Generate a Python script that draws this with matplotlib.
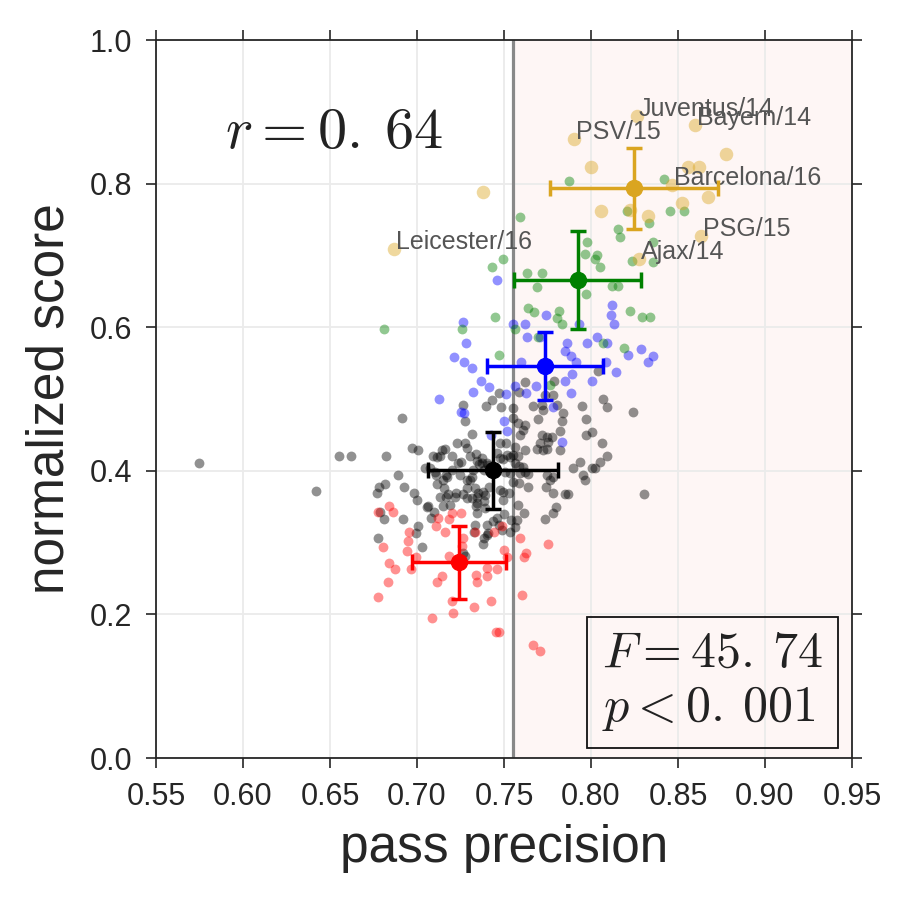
import matplotlib
matplotlib.use("Agg")
import matplotlib.pyplot as plt

plt.rcParams['font.family'] = ['Liberation Sans', 'DejaVu Sans']
plt.rcParams['mathtext.fontset'] = 'cm'

# ---- data ----
black_xy = [
    (.5747, .4109), (.642, .3719), (.6552, .4206), (.6621, .4206), (.6823, .4206),
    (.6915, .4736), (.6892, .3942), (.6771, .3691), (.6782, .3774), (.6817, .3816),
    (.6926, .3774), (.6788, .3426), (.6811, .3329), (.692, .3329), (.6777, .3064),
    (.7007, .3231), (.6995, .3134), (.703, .2939), (.6984, .3691), (.7001, .3593),
    (.7064, .3510), (.7099, .3426), (.7081, .3343), (.6972, .4318), (.7007, .4290),
    (.7093, .4206), (.7145, .4290), (.7162, .4304), (.7202, .4206), (.7231, .4387),
    (.711, .3942), (.715, .3872), (.7168, .3942), (.7156, .3761), (.7133, .3635),
    (.7168, .3635), (.7219, .3635), (.715, .3510), (.7191, .3524), (.7237, .4109),
    (.7076, .4039), (.7116, .3816), (.7173, .3914), (.7179, .3677), (.7104, .3983),
    (.7248, .3942), (.7288, .3872), (.7317, .3914), (.7265, .3677), (.7288, .3621),
    (.7334, .3761), (.7346, .3635), (.7386, .3579), (.7392, .3663), (.734, .3510),
    (.7346, .3412), (.7495, .3705), (.7495, .3593), (.7461, .3343), (.7501, .3398),
    (.7403, .3245), (.7334, .3245), (.7386, .3064), (.7409, .3134), (.7265, .2855),
    (.7329, .3148), (.7265, .4917), (.7277, .4694), (.7398, .4903), (.7432, .4986),
    (.7472, .5084), (.7317, .4513), (.7277, .4387), (.7133, .4206), (.7116, .4192),
    (.7254, .4123), (.7288, .4318), (.7306, .4206), (.7346, .4137), (.7357, .4095),
    (.7478, .4387), (.7513, .4387), (.7518, .4220), (.7202, .4011), (.7323, .4011),
    (.7047, .4039), (.7386, .4011), (.7409, .4081), (.7484, .4889), (.7553, .4875),
    (.7587, .5098), (.7622, .5237), (.7668, .4903), (.7697, .4722), (.772, .4917),
    (.7737, .5056), (.7783, .5056), (.7806, .4917), (.784, .4805), (.7835, .4694),
    (.7823, .4554), (.795, .4903), (.7973, .4722), (.8007, .4541), (.7973, .4499),
    (.807, .5000), (.8093, .4889), (.8243, .4819), (.7582, .4666), (.761, .4568),
    (.7593, .4499), (.7622, .4638), (.7564, .4332), (.7553, .4220), (.7622, .4290),
    (.7691, .4304), (.7725, .4290), (.7748, .4304), (.772, .4499), (.7748, .4471),
    (.7777, .4471), (.7708, .4387), (.7754, .4401), (.734, .4234), (.7375, .4178),
    (.7375, .4109), (.7403, .4109), (.7461, .4248), (.7478, .4178), (.7495, .4164),
    (.7536, .4192), (.7564, .4109), (.7587, .4067), (.761, .4053), (.7622, .3983),
    (.7639, .3956), (.7748, .3942), (.7766, .3872), (.7783, .3914), (.7639, .3774),
    (.7743, .3774), (.7783, .3691), (.7852, .3677), (.7869, .3677), (.7898, .4039),
    (.7938, .4123), (.7955, .3942), (.7967, .3872), (.8007, .4039), (.8024, .4039),
    (.8053, .4123), (.8093, .4206), (.8065, .4387), (.8306, .3677), (.7225, .3691),
    (.7317, .3621), (.7352, .3691), (.7058, .3496), (.7306, .3872), (.7288, .3761),
    (.738, .3705), (.7415, .3774), (.7346, .3552), (.7392, .3482), (.7478, .3733),
    (.753, .3691), (.7582, .3524), (.7616, .3412), (.7576, .3315), (.7541, .3315),
    (.7438, .3301), (.7472, .3245), (.749, .3176), (.7403, .3106), (.738, .2981),
    (.7536, .3148), (.7564, .3217), (.7277, .2813), (.7737, .3329), (.7783, .3412),
    (.78, .3496), (.7725, .4847), (.7553, .4736), (.7582, .4206), (.7823, .4290),
    (.7507, .3983), (.7536, .3969), (.7593, .3969), (.7553, .3844), (.7587, .3830),
    (.8042, .5390), (.7789, .5251),
]

red_xy = [
    (.684, .351), (.6863, .343), (.6777, .343), (.7122, .334), (.711, .323),
    (.7162, .315), (.6955, .315), (.6949, .302), (.6805, .294), (.6943, .288),
    (.6995, .280), (.684, .272), (.6874, .263), (.6966, .263), (.7145, .253),
    (.7116, .245), (.6834, .245), (.6777, .224), (.7202, .219), (.7208, .202),
    (.7087, .195), (.7185, .281), (.7202, .341), (.7254, .341), (.7185, .333),
    (.7265, .306), (.726, .295), (.7444, .315), (.749, .323), (.7593, .306),
    (.7754, .298), (.7501, .290), (.7518, .280), (.7628, .286), (.7616, .280),
    (.7403, .265), (.7461, .263), (.734, .255), (.7403, .253), (.7346, .245),
    (.7605, .227), (.7426, .219), (.7329, .210), (.7455, .175), (.7472, .175),
    (.7668, .157), (.7708, .149), (.7334, .315),
]

blue_xy = [
    (.7461, .666), (.7265, .607), (.7553, .6045), (.7622, .6045), (.7743, .617),
    (.7283, .578), (.7214, .5585), (.7271, .5515), (.7317, .543), (.7369, .525),
    (.7415, .517), (.7323, .510), (.7127, .500), (.7513, .507), (.7564, .518),
    (.7599, .5515), (.7633, .586), (.7708, .586), (.7863, .578), (.7852, .567),
    (.7886, .560), (.7915, .5515), (.7978, .578), (.8036, .586), (.8093, .578),
    (.8122, .631), (.8116, .617), (.8134, .6045), (.8214, .561), (.8289, .570),
    (.8329, .5515), (.8358, .560), (.8145, .538), (.8007, .525), (.7892, .535),
    (.7852, .525), (.7886, .508), (.7685, .518), (.7628, .508), (.7932, .6045),
    (.8088, .5515), (.7254, .482), (.7271, .4805), (.7501, .469), (.7518, .455),
    (.7783, .489), (.7835, .440), (.7426, .450),
]

green_xy = [
    (.7593, .7535), (.7495, .695), (.7432, .684), (.7633, .6755), (.772, .6755),
    (.7691, .656), (.7978, .7187), (.7967, .702), (.8036, .7006), (.8024, .695),
    (.8053, .684), (.7973, .646), (.8122, .657), (.8157, .657), (.8157, .737),
    (.8168, .7256), (.8208, .762), (.8335, .745), (.8358, .7187), (.8358, .691),
    (.8237, .692), (.7639, .627), (.7674, .621), (.7817, .6226), (.7806, .613),
    (.7835, .6045), (.8226, .6226), (.8295, .614), (.8341, .614), (.7449, .614),
    (.726, .5975), (.6811, .5975), (.7564, .5975), (.7472, .561), (.7697, .586),
    (.807, .578), (.8191, .571), (.7766, .5195), (.7875, .8036), (.8421, .8064),
    (.8456, .762), (.8536, .762),
]

gold_xy = [
    (.8266, .894), (.8599, .8817), (.7904, .862), (.8778, .841), (.8001, .823),
    (.8559, .823), (.8622, .823), (.8467, .798), (.8674, .781), (.8059, .762),
    (.8525, .773), (.8226, .763), (.8329, .755), (.8634, .727), (.8277, .695),
    (.738, .788), (.6869, .709),
]

team_labels = ['Juventus/14', 'Bayern/14', 'PSV/15', 'Barcelona/16',
               'PSG/15', 'Ajax/14', 'Leicester/16']
team_xy = [(.8266, .894), (.8599, .8817), (.7904, .862), (.8467, .798),
           (.8634, .727), (.8277, .695), (.6869, .709)]

# group summary: mean and spread (black, red, blue, green, gold)
group_colors = ['black', 'red', 'blue', 'green', 'goldenrod']
mean_x = [0.7437, 0.7242, 0.7736, 0.7924, 0.8249]
mean_y = [0.4005, 0.2723, 0.5460, 0.6657, 0.7932]
err_x = [0.0375, 0.0270, 0.0333, 0.0365, 0.0483]
err_y = [0.0537, 0.0510, 0.0474, 0.0683, 0.0564]

threshold = 0.755
r_text = r'$r=0.\:64$'
stat_text = '$F=45.\\:74$\n$p<0.\\:001$'

x_ticks = [0.55, 0.60, 0.65, 0.70, 0.75, 0.80, 0.85, 0.90, 0.95]
y_ticks = [0.0, 0.2, 0.4, 0.6, 0.8, 1.0]

# ---- figure ----
fig = plt.figure(figsize=(9, 9), dpi=100)
ax = fig.add_axes([156/900, 1 - 758/900, (852 - 156)/900, (758 - 40)/900])

ax.set_xlim(0.55, 0.95)
ax.set_ylim(0.0, 1.0)
ax.axvspan(threshold, 0.95, color='salmon', alpha=0.07, lw=0, zorder=0)
ax.grid(True, color='#ebebeb', lw=1.3, zorder=0.5)
ax.set_axisbelow(True)
ax.axvline(threshold, color='#888888', lw=2.3, zorder=1)

groups = [black_xy, red_xy, blue_xy, green_xy, gold_xy]
sizes = [50, 50, 50, 50, 95]
for pts, c, s in zip(groups, group_colors, sizes):
    xs = [p[0] for p in pts]
    ys = [p[1] for p in pts]
    ax.scatter(xs, ys, s=s, color=c, alpha=0.43, lw=0, zorder=2)

for name, (tx, ty) in zip(team_labels, team_xy):
    ax.text(tx + 0.001, ty, name, fontsize=18, color='#555555',
            ha='left', va='baseline', zorder=3)

for mx, my, ex, ey, c in zip(mean_x, mean_y, err_x, err_y, group_colors):
    ax.errorbar(mx, my, xerr=ex, yerr=ey, fmt='o', color=c, ms=11.5,
                elinewidth=2.5, capsize=6, capthick=2.5, zorder=4)

ax.text(0.5897, 0.87, r_text, fontsize=42, color='#222222', ha='left',
        va='center')
ax.text(0.9333, 0.035, stat_text, fontsize=36, color='#222222', ha='right',
        va='bottom', linespacing=1.2, multialignment='left',
        bbox=dict(boxstyle='square,pad=0.3', fc='none', ec='#111111', lw=1.3))

ax.set_xticks(x_ticks)
ax.set_xticklabels(['%.2f' % v for v in x_ticks])
ax.set_yticks(y_ticks)
ax.set_yticklabels(['%.1f' % v for v in y_ticks])
ax.tick_params(direction='out', length=7, width=1.2, colors='#262626',
               labelsize=22, top=True, right=True, pad=10)
for sp in ax.spines.values():
    sp.set_color('#262626')
    sp.set_linewidth(1.3)

ax.set_xlabel('pass precision', fontsize=37, color='#262626', labelpad=9)
ax.set_ylabel('normalized score', fontsize=37, color='#262626', labelpad=11)

fig.savefig('out.png', dpi=100)
